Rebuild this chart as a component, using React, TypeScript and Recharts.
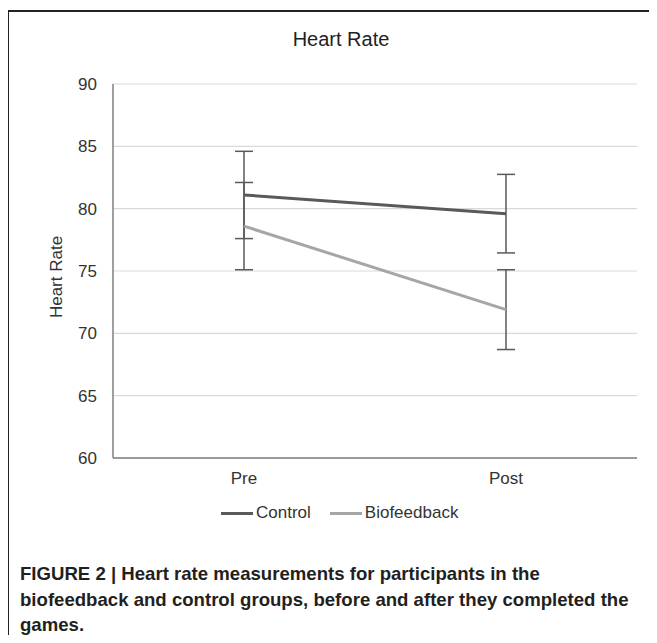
import { LineChart, Line, XAxis, YAxis, CartesianGrid, ErrorBar } from 'recharts';

const categories = ['Pre', 'Post'];
const controlMeans = [81.1, 79.6];
const controlErrors = [3.5, 3.15];
const biofeedbackMeans = [78.6, 71.9];
const biofeedbackErrors = [3.5, 3.2];
const yTicks = [60, 65, 70, 75, 80, 85, 90];

const CONTROL_COLOR = '#595959';
const BIO_COLOR = '#a6a6a6';
const FONT = "'Liberation Sans', Arial, sans-serif";

const data = categories.map((label, i) => ({
  label,
  control: controlMeans[i],
  controlErr: controlErrors[i],
  biofeedback: biofeedbackMeans[i],
  biofeedbackErr: biofeedbackErrors[i],
}));

export default function App() {
  return (
    <div style={{ position: 'relative', width: 657, height: 643, margin: -8, background: '#fff', overflow: 'hidden', fontFamily: FONT }}>
      {/* figure frame */}
      <div style={{ position: 'absolute', left: 7, top: 10, width: 2, height: 640, background: '#222' }} />
      <div style={{ position: 'absolute', left: 7, top: 10, width: 660, height: 1.5, background: '#222' }} />

      <div style={{ position: 'absolute', left: 0, width: 682, top: 28, textAlign: 'center', fontSize: 20, color: '#222' }}>
        Heart Rate
      </div>

      <div style={{ position: 'absolute', left: 57, top: 277, transform: 'translate(-50%, -50%) rotate(-90deg)', fontSize: 17, color: '#333', whiteSpace: 'nowrap' }}>
        Heart Rate
      </div>

      <div style={{ position: 'absolute', left: 0, top: 0 }}>
        <LineChart width={657} height={545} data={data} margin={{ top: 84, right: 20, left: 53, bottom: 57 }}>
          <CartesianGrid vertical={false} stroke="#d9d9d9" strokeWidth={1.2} />
          <XAxis
            dataKey="label"
            scale="band"
            height={30}
            axisLine={{ stroke: '#7f7f7f', strokeWidth: 1.5 }}
            tickLine={false}
            tickMargin={8}
            tick={{ fill: '#333', fontSize: 17, fontFamily: FONT }}
          />
          <YAxis
            width={60}
            domain={[60, 90]}
            ticks={yTicks}
            interval={0}
            axisLine={{ stroke: '#7f7f7f', strokeWidth: 1.5 }}
            tickLine={false}
            tickMargin={10}
            tick={{ fill: '#333', fontSize: 17, fontFamily: FONT }}
          />
          <Line
            type="linear"
            dataKey="control"
            stroke={CONTROL_COLOR}
            strokeWidth={3}
            dot={false}
            isAnimationActive={false}
          >
            <ErrorBar dataKey="controlErr" direction="y" width={9} stroke={CONTROL_COLOR} strokeWidth={1.5} />
          </Line>
          <Line
            type="linear"
            dataKey="biofeedback"
            stroke={BIO_COLOR}
            strokeWidth={3}
            dot={false}
            isAnimationActive={false}
          >
            <ErrorBar dataKey="biofeedbackErr" direction="y" width={9} stroke={CONTROL_COLOR} strokeWidth={1.5} />
          </Line>
        </LineChart>
      </div>

      {/* legend */}
      <div style={{ position: 'absolute', left: 221, top: 503, display: 'flex', alignItems: 'center', fontSize: 17, color: '#333' }}>
        <span style={{ display: 'inline-block', width: 32, height: 3, background: CONTROL_COLOR, marginRight: 3 }} />
        <span>Control</span>
        <span style={{ display: 'inline-block', width: 32, height: 3, background: BIO_COLOR, marginLeft: 19, marginRight: 3 }} />
        <span>Biofeedback</span>
      </div>

      {/* caption */}
      <div style={{ position: 'absolute', left: 20, top: 561, fontSize: 18.6, lineHeight: '25.5px', fontWeight: 'bold', color: '#231f20', whiteSpace: 'nowrap' }}>
        FIGURE 2 | Heart rate measurements for participants in the<br />
        biofeedback and control groups, before and after they completed the<br />
        games.
      </div>
    </div>
  );
}
